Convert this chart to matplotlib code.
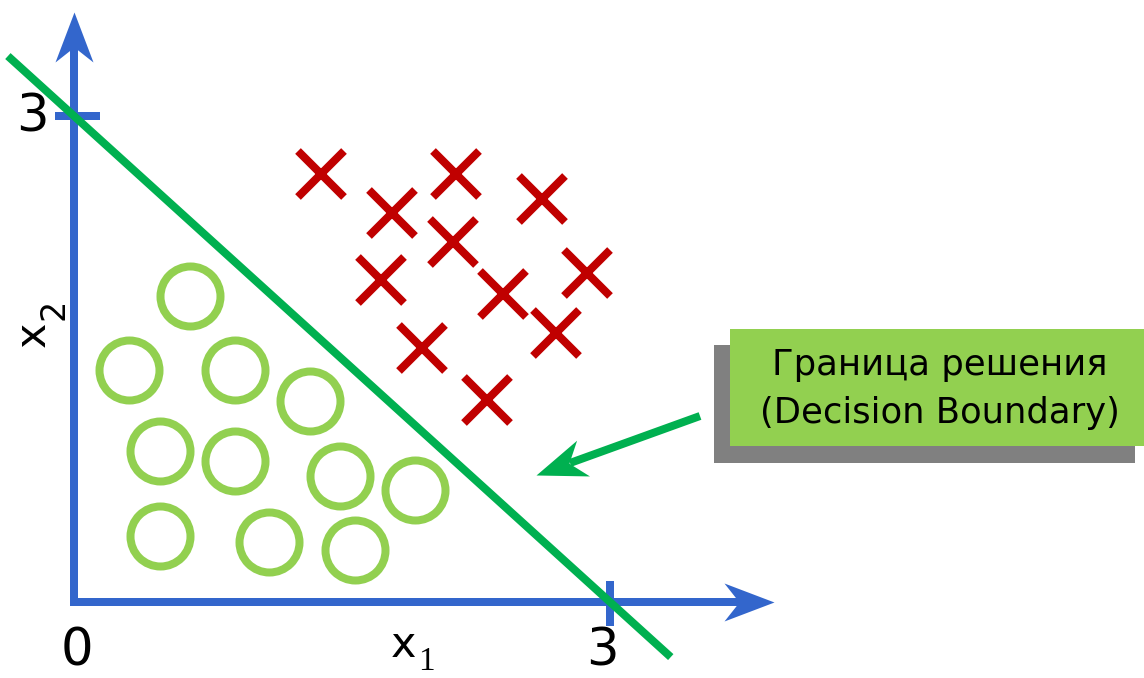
import numpy as np
import matplotlib
matplotlib.use("Agg")
import matplotlib.pyplot as plt
from matplotlib.path import Path
from matplotlib.patches import Rectangle

# ---------------- data ----------------
cross_x = [1.38, 1.78, 2.14, 2.62, 2.12, 1.72, 2.40, 2.87, 1.95, 2.70, 2.31]
cross_y = [2.64, 2.40, 2.64, 2.49, 2.22, 1.99, 1.90, 2.03, 1.57, 1.66, 1.25]

circle_x = [0.65, 0.31, 0.90, 1.32, 0.48, 0.90, 1.49, 1.91, 0.48, 1.09, 1.57]
circle_y = [1.89, 1.43, 1.43, 1.24, 0.93, 0.87, 0.78, 0.69, 0.41, 0.37, 0.32]

boundary_sum = 3.0                 # x1 + x2 = 3
boundary_x = [-0.37, 3.34]
tick_values = [0, 3]
tick_labels = ["0", "3"]
box_lines = ["Граница решения", "(Decision Boundary)"]

# ---------------- colours ----------------
BLUE = "#3366CC"
RED = "#C00000"
LGREEN = "#92D050"
DGREEN = "#00B050"
GRAY = "#808080"

W, H, DPI = 1144, 678, 100
fig = plt.figure(figsize=(W / DPI, H / DPI), dpi=DPI)
ax = fig.add_axes([0, 0, 1, 1])
ax.axis("off")

# pixel geometry of the reference (origin and unit scale)
OX, OY = 74.0, 602.0
SX, SY = 178.67, 162.0
ax.set_xlim(-OX / SX, (W - OX) / SX)
ax.set_ylim(-(H - OY) / SY, OY / SY)


def P(px, py):
    """pixel position (top-left origin) -> data coords, for layout only"""
    return (px - OX) / SX, (OY - py) / SY


PT = 72.0 / DPI  # points per pixel


def arrow_head(x, y, angle_deg, color, z):
    base = np.array([(0, 0), (-50, 19), (-35, 0), (-50, -19), (0, 0)], float)
    a = np.deg2rad(angle_deg)
    R = np.array([[np.cos(a), -np.sin(a)], [np.sin(a), np.cos(a)]])
    v = base @ R.T
    m = np.abs(v).max()
    path = Path(v, [Path.MOVETO, Path.LINETO, Path.LINETO, Path.LINETO, Path.CLOSEPOLY])
    ax.plot([x], [y], marker=path, markersize=2 * m * PT, color=color,
            markeredgewidth=0, linestyle="none", zorder=z)


# ---------------- axes ----------------
y_tip = P(0, 12)[1]
x_tip = P(774, 0)[0]
y_stop = P(0, 44)[1]
x_stop = P(741, 0)[0]
ax.plot([0, 0, x_stop], [y_stop, 0, 0], color=BLUE, lw=8 * PT,
        solid_joinstyle="miter", solid_capstyle="butt", zorder=2)
arrow_head(0, y_tip, 90, BLUE, 2)
arrow_head(x_tip, 0, 0, BLUE, 2)

# ticks at 3
tk = tick_values[1]
ax.plot([P(55, 0)[0], P(100, 0)[0]], [tk, tk], color=BLUE, lw=8 * PT,
        solid_capstyle="butt", zorder=2)
ax.plot([tk, tk], [P(0, 581)[1], P(0, 626)[1]], color=BLUE, lw=8 * PT,
        solid_capstyle="butt", zorder=2)

# tick labels
num_font = dict(family="DejaVu Sans", fontsize=37, color="black")
ax.text(*P(77, 677), tick_labels[0], ha="center", va="bottom", **num_font)
ax.text(*P(602, 677), tick_labels[1], ha="center", va="bottom", **num_font)
ax.text(*P(32, 131), tick_labels[1], ha="center", va="baseline", **num_font)

# axis names
ax.text(*P(404, 657), "x", ha="center", va="baseline",
        family="DejaVu Sans", fontsize=31, color="black")
ax.text(*P(426, 677), "1", ha="center", va="bottom",
        family="Liberation Serif", fontsize=24, color="black")
ax.text(*P(45, 334), "x", ha="center", va="baseline", rotation=90,
        rotation_mode="anchor", family="DejaVu Sans", fontsize=31, color="black")
ax.text(*P(64, 309), "2", ha="center", va="baseline", rotation=90,
        rotation_mode="anchor", family="DejaVu Sans", fontsize=24, color="black")

# ---------------- points ----------------
ax.plot(circle_x, circle_y, linestyle="none", marker="o", markersize=60 * PT,
        markerfacecolor="none", markeredgecolor=LGREEN, markeredgewidth=8 * PT,
        zorder=3)
ax.plot(cross_x, cross_y, linestyle="none", marker="x", markersize=47 * PT,
        color=RED, markeredgewidth=8 * PT, zorder=3)

# ---------------- decision boundary ----------------
bx = np.array(boundary_x)
ax.plot(bx, boundary_sum - bx, color=DGREEN, lw=8 * PT,
        solid_capstyle="butt", zorder=4)

# ---------------- annotation box ----------------
def fig_rect(x0, y0, x1, y1, color, z):
    fig.patches.append(Rectangle((x0 / W, 1 - y1 / H), (x1 - x0) / W, (y1 - y0) / H,
                                 transform=fig.transFigure, facecolor=color,
                                 edgecolor="none", zorder=z))

fig_rect(714, 345, 1135, 463, GRAY, 5)
fig_rect(730, 329, 1144, 446, LGREEN, 6)
fig.text(940 / W, 1 - 375 / H, box_lines[0], ha="center", va="baseline",
         family="DejaVu Sans", fontsize=25.5, color="black", zorder=7)
fig.text(940 / W, 1 - 423 / H, box_lines[1], ha="center", va="baseline",
         family="DejaVu Sans", fontsize=25.5, color="black", zorder=7)

# ---------------- pointer arrow ----------------
tail = P(700, 416)
tip = P(536, 475)
notch = P(570, 463)
ax.plot([tail[0], notch[0]], [tail[1], notch[1]], color=DGREEN, lw=8 * PT,
        solid_capstyle="butt", zorder=4)
ang = np.degrees(np.arctan2(-(475 - 416), 536 - 700))
arrow_head(tip[0], tip[1], ang, DGREEN, 4)

fig.savefig("out.png", dpi=DPI)
